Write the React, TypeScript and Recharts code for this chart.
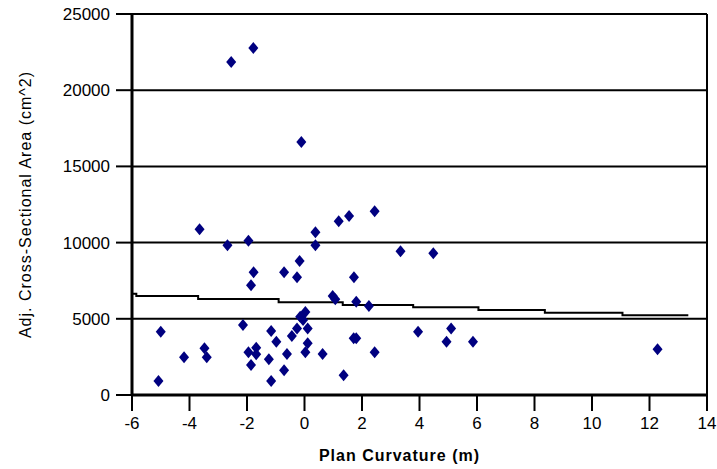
import { ComposedChart, Scatter, Line, XAxis, YAxis, CartesianGrid, ReferenceLine } from 'recharts'

// plan curvature (m) vs adjusted cross-sectional area (cm^2)
const curvature = [
  -2.55, -1.78, -0.11, -5.0, -5.08, -4.19, -3.65, -3.48, -3.4, -2.68,
  -1.95, -1.77, -1.86, -2.14, -1.95, -1.68, -1.68, -1.86, -1.16, -0.98,
  -1.24, -1.16, -0.71, -0.61, -0.71, -0.44, -0.26, -0.26, -0.17, -0.15,
  -0.05, 0.03, 0.11, 0.11, 0.03, 0.38, 0.38, 0.63, 1.19, 1.55,
  0.98, 1.07, 1.36, 1.72, 1.8, 1.71, 1.8, 2.24, 2.44, 2.44,
  3.34, 3.95, 4.48, 5.1, 4.94, 5.86, 12.28,
]
const area = [
  21850, 22770, 16600, 4150, 920, 2470, 10870, 3060, 2470, 9820,
  10120, 8050, 7200, 4590, 2800, 3100, 2670, 1970, 4200, 3500,
  2340, 920, 8050, 2690, 1620, 3870, 4370, 7720, 8790, 5140,
  4920, 5450, 4370, 3390, 2800, 10680, 9820, 2690, 11400, 11750,
  6500, 6280, 1290, 7720, 6120, 3720, 3720, 5840, 12050, 2800,
  9430, 4150, 9300, 4370, 3500, 3500, 3000,
]

// fitted step line
const fitX = [-6, -5.85, -3.7, -0.9, 1.33, 3.78, 6.05, 8.36, 11.06, 13.35]
const fitY = [6650, 6500, 6300, 6080, 5900, 5750, 5580, 5400, 5230, 5230]

const xTicks = [-6, -4, -2, 0, 2, 4, 6, 8, 10, 12, 14]
const yTicks = [0, 5000, 10000, 15000, 20000, 25000]

const points = curvature.map((x, i) => ({ x, y: area[i] }))
const fit = fitX.map((x, i) => ({ x, fy: fitY[i] }))

const Diamond = (props: any) => {
  const { cx, cy } = props
  if (cx == null || cy == null) return null
  return <polygon points={`${cx},${cy - 6} ${cx + 5},${cy} ${cx},${cy + 6} ${cx - 5},${cy}`} fill="#000080" />
}

const font = 'Arial, "Liberation Sans", sans-serif'

export default function App() {
  return (
    <div style={{ position: 'absolute', left: 0, top: 0, background: '#fff', fontFamily: font }}>
      <ComposedChart width={717} height={469} margin={{ top: 14, right: 10, bottom: 34, left: 52 }}>
        <CartesianGrid vertical={false} stroke="#000" strokeWidth={2} horizontalValues={yTicks} />
        <XAxis
          type="number"
          dataKey="x"
          domain={[-6, 14]}
          ticks={xTicks}
          allowDataOverflow
          height={40}
          axisLine={{ stroke: '#000', strokeWidth: 3 }}
          tickLine={{ stroke: '#000', strokeWidth: 2 }}
          tickSize={16}
          tickMargin={6}
          tick={{ fill: '#000', fontSize: 17, fontFamily: font }}
          label={{
            value: 'Plan Curvature (m)',
            position: 'insideBottom',
            offset: -26,
            dx: -20,
            fill: '#000',
            fontSize: 16,
            fontWeight: 'bold',
            letterSpacing: 1,
            fontFamily: font,
          }}
        />
        <YAxis
          type="number"
          domain={[0, 25000]}
          ticks={yTicks}
          width={80}
          axisLine={{ stroke: '#000', strokeWidth: 3 }}
          tickLine={{ stroke: '#000', strokeWidth: 2 }}
          tickSize={16}
          tickMargin={6}
          tick={{ fill: '#000', fontSize: 17, fontFamily: font }}
          label={{
            value: 'Adj. Cross-Sectional Area (cm^2)',
            angle: -90,
            position: 'insideLeft',
            offset: -27,
            fill: '#000',
            fontSize: 16,
            letterSpacing: 1,
            fontFamily: font,
            style: { textAnchor: 'middle' },
          }}
        />
        <ReferenceLine x={14} stroke="#000" strokeWidth={2} />
        <Line
          data={fit}
          dataKey="fy"
          type="stepAfter"
          stroke="#000"
          strokeWidth={2}
          dot={false}
          isAnimationActive={false}
        />
        <Scatter data={points} dataKey="y" shape={Diamond} isAnimationActive={false} />
      </ComposedChart>
    </div>
  )
}
